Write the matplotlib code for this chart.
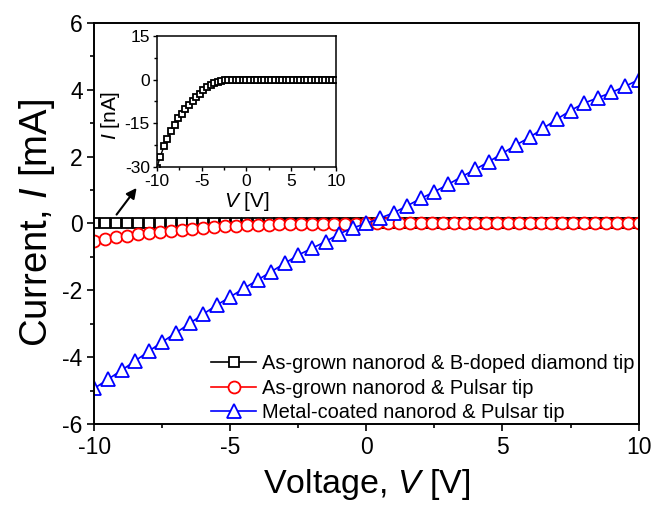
import matplotlib
matplotlib.use("Agg")
import matplotlib.pyplot as plt
from matplotlib.ticker import MultipleLocator

plt.rcParams['font.family'] = ['Liberation Sans', 'DejaVu Sans']
plt.rcParams['mathtext.fontset'] = 'custom'
plt.rcParams['mathtext.rm'] = 'Liberation Sans'
plt.rcParams['mathtext.it'] = 'Liberation Sans:italic'
plt.rcParams['axes.unicode_minus'] = False

# voltage sweeps
v_fine = [-10.0, -9.6, -9.2, -8.8, -8.4, -8.0, -7.6, -7.2, -6.8, -6.4,
          -6.0, -5.6, -5.2, -4.8, -4.4, -4.0, -3.6, -3.2, -2.8, -2.4,
          -2.0, -1.6, -1.2, -0.8, -0.4, 0.0, 0.4, 0.8, 1.2, 1.6,
          2.0, 2.4, 2.8, 3.2, 3.6, 4.0, 4.4, 4.8, 5.2, 5.6,
          6.0, 6.4, 6.8, 7.2, 7.6, 8.0, 8.4, 8.8, 9.2, 9.6, 10.0]
v_coarse = [-10.0, -9.5, -9.0, -8.5, -8.0, -7.5, -7.0, -6.5, -6.0, -5.5,
            -5.0, -4.5, -4.0, -3.5, -3.0, -2.5, -2.0, -1.5, -1.0, -0.5,
            0.0, 0.5, 1.0, 1.5, 2.0, 2.5, 3.0, 3.5, 4.0, 4.5,
            5.0, 5.5, 6.0, 6.5, 7.0, 7.5, 8.0, 8.5, 9.0, 9.5, 10.0]

# currents [mA]
i_bdoped = [0.0, 0.0, 0.0, 0.0, 0.0, 0.0, 0.0, 0.0, 0.0, 0.0,
            0.0, 0.0, 0.0, 0.0, 0.0, 0.0, 0.0, 0.0, 0.0, 0.0,
            0.0, 0.0, 0.0, 0.0, 0.0, 0.0, 0.0, 0.0, 0.0, 0.0,
            0.0, 0.0, 0.0, 0.0, 0.0, 0.0, 0.0, 0.0, 0.0, 0.0,
            0.0, 0.0, 0.0, 0.0, 0.0, 0.0, 0.0, 0.0, 0.0, 0.0, 0.0]
i_pulsar = [-0.52, -0.46, -0.41, -0.36, -0.32, -0.28, -0.24, -0.21, -0.18, -0.15,
            -0.13, -0.11, -0.09, -0.07, -0.06, -0.045, -0.035, -0.025, -0.018, -0.012,
            -0.008, -0.005, -0.003, -0.002, -0.001, 0.0, 0.0, 0.0, 0.0, 0.0,
            0.0, 0.0, 0.0, 0.0, 0.0, 0.0, 0.0, 0.0, 0.0, 0.0,
            0.0, 0.0, 0.0, 0.0, 0.0, 0.0, 0.0, 0.0, 0.0, 0.0, 0.0]
i_metal = [-4.93, -4.66, -4.39, -4.11, -3.82, -3.54, -3.27, -2.99, -2.71, -2.44,
           -2.19, -1.94, -1.69, -1.44, -1.19, -0.94, -0.74, -0.54, -0.31, -0.13,
           0.0, 0.16, 0.32, 0.53, 0.75, 0.95, 1.17, 1.40, 1.62, 1.85,
           2.10, 2.35, 2.58, 2.85, 3.12, 3.38, 3.60, 3.76, 3.92, 4.10, 4.30]

# inset current [nA]
i_inset = [-30.5, -26.5, -23.0, -20.3, -17.8, -15.5, -13.4, -11.8, -10.2, -8.8,
           -7.4, -6.1, -4.8, -3.6, -2.6, -1.8, -1.2, -0.7, -0.35, -0.15,
           -0.05, 0.0, 0.0, 0.0, 0.0, 0.0, 0.0, 0.0, 0.0, 0.0,
           0.0, 0.0, 0.0, 0.0, 0.0, 0.0, 0.0, 0.0, 0.0, 0.0,
           0.0, 0.0, 0.0, 0.0, 0.0, 0.0, 0.0, 0.0, 0.0, 0.0, 0.0]

labels = ['As-grown nanorod & B-doped diamond tip',
          'As-grown nanorod & Pulsar tip',
          'Metal-coated nanorod & Pulsar tip']

fig = plt.figure(figsize=(6.53, 5.12), dpi=100)
ax = fig.add_axes([0.1447, 0.1719, 0.8331, 0.7832])

ax.plot(v_fine, i_bdoped, '-s', color='black', mfc='white', ms=6.5, mew=1.3, lw=1.2, label=labels[0])
ax.plot(v_fine, i_pulsar, '-o', color='red', mfc='white', ms=8.6, mew=1.3, lw=1.2, label=labels[1])
ax.plot(v_coarse, i_metal, '-^', color='blue', mfc='white', ms=9.5, mew=1.3, lw=1.2, label=labels[2])

ax.set_xlim(-10, 10)
ax.set_ylim(-6, 6)
ax.xaxis.set_major_locator(MultipleLocator(5))
ax.xaxis.set_minor_locator(MultipleLocator(2.5))
ax.yaxis.set_major_locator(MultipleLocator(2))
ax.yaxis.set_minor_locator(MultipleLocator(1))
ax.tick_params(which='major', direction='out', length=5, width=1.2, labelsize=16.5)
ax.tick_params(which='minor', direction='out', length=3, width=1.2)
for s in ax.spines.values():
    s.set_linewidth(1.4)

ax.set_xlabel('Voltage, $\\mathit{V}$ [V]', fontsize=24.5, labelpad=6)
ax.set_ylabel('Current, $\\mathit{I}$ [mA]', fontsize=27.5, labelpad=4)

ax.legend(loc='lower left', bbox_to_anchor=(0.2, -0.015), frameon=False,
          fontsize=14.4, handlelength=2.25, handletextpad=0.3, labelspacing=0.27,
          borderaxespad=0.0)

ax.annotate('', xy=(-8.39, 1.13), xytext=(-9.25, 0.2),
            arrowprops=dict(arrowstyle='-|>', color='black', lw=1.5, mutation_scale=15))

# inset
axi = fig.add_axes([0.240, 0.6744, 0.2746, 0.2553])
axi.plot(v_fine, i_inset, '-s', color='black', mfc='white', ms=4.8, mew=1.3, lw=1.0)
axi.set_xlim(-10, 10)
axi.set_ylim(-30, 15)
axi.xaxis.set_major_locator(MultipleLocator(5))
axi.xaxis.set_minor_locator(MultipleLocator(2.5))
axi.yaxis.set_major_locator(MultipleLocator(15))
axi.yaxis.set_minor_locator(MultipleLocator(7.5))
axi.tick_params(which='major', direction='out', length=3, width=1.0, labelsize=12.5, pad=2)
axi.tick_params(which='minor', direction='out', length=2, width=1.0)
for s in axi.spines.values():
    s.set_linewidth(1.1)
axi.set_xlabel('$\\mathit{V}$ [V]', fontsize=15, labelpad=1)
axi.set_ylabel('$\\mathit{I}$ [nA]', fontsize=15)
axi.yaxis.set_label_coords(-0.194, 0.39)

fig.savefig('out.png', dpi=100)
